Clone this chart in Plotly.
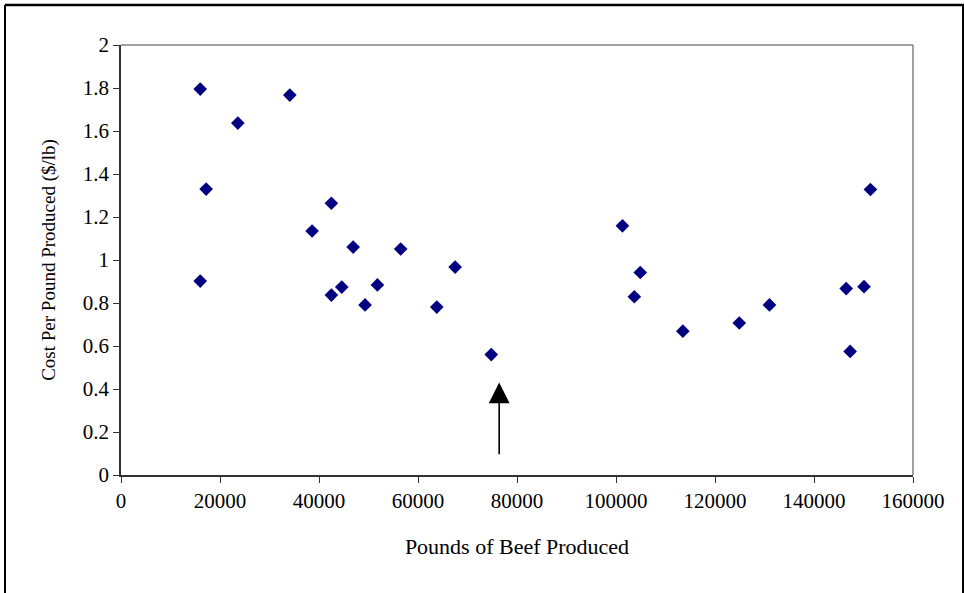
import plotly.graph_objects as go

pounds = [16000, 17200, 16000, 23600, 34100, 38600, 42500, 42500, 44600, 46900,
          49300, 51800, 56500, 63800, 67500, 74800, 101300, 103700, 104900, 113500,
          124900, 131000, 146500, 147300, 150100, 151400]
cost = [1.795, 1.33, 0.902, 1.637, 1.767, 1.135, 1.264, 0.837, 0.874, 1.06,
        0.791, 0.884, 1.051, 0.781, 0.967, 0.56, 1.159, 0.829, 0.942, 0.669,
        0.707, 0.791, 0.867, 0.575, 0.876, 1.328]

x_ticks = [0, 20000, 40000, 60000, 80000, 100000, 120000, 140000, 160000]
y_ticks = [0, 0.2, 0.4, 0.6, 0.8, 1, 1.2, 1.4, 1.6, 1.8, 2]
y_tick_text = ["0", "0.2", "0.4", "0.6", "0.8", "1", "1.2", "1.4", "1.6", "1.8", "2"]

arrow_x = 76400
arrow_tip = 0.43
arrow_tail = 0.09

FONT = "Liberation Serif, Times New Roman, serif"

fig = go.Figure()
fig.add_trace(go.Scatter(
    x=pounds, y=cost, mode="markers",
    marker=dict(symbol="diamond", size=10.5, color="#000080", line=dict(width=0)),
    showlegend=False, cliponaxis=False,
))

fig.add_annotation(
    x=arrow_x, y=arrow_tip, ax=arrow_x, ay=arrow_tail,
    xref="x", yref="y", axref="x", ayref="y",
    showarrow=True, arrowhead=2, arrowsize=2.6, arrowwidth=1.6,
    arrowcolor="black", text="", standoff=0,
)

# gray top/right border of plot area
fig.add_shape(type="line", xref="paper", yref="paper", x0=0, x1=1, y0=1, y1=1,
              line=dict(color="#808080", width=1.5))
fig.add_shape(type="line", xref="paper", yref="paper", x0=1, x1=1, y0=0, y1=1,
              line=dict(color="#808080", width=1.5))

# outer chart frame (left, top, right)
L, R, T, B = 121, 913, 45, 475
def px_x(p):
    return (p - L) / (R - L)
def px_y(p):
    return (B - p) / (B - T)
fig.add_shape(type="line", xref="paper", yref="paper",
              x0=px_x(5), x1=px_x(5), y0=px_y(5), y1=px_y(620),
              line=dict(color="black", width=2))
fig.add_shape(type="line", xref="paper", yref="paper",
              x0=px_x(5), x1=px_x(990), y0=px_y(5), y1=px_y(5),
              line=dict(color="black", width=2.5))
fig.add_shape(type="line", xref="paper", yref="paper",
              x0=px_x(963), x1=px_x(963), y0=px_y(5), y1=px_y(620),
              line=dict(color="black", width=2))

fig.update_xaxes(
    range=[0, 160000], tickvals=x_ticks, ticktext=[str(v) for v in x_ticks],
    showgrid=False, zeroline=False, showline=True, linecolor="#333333", linewidth=1.5,
    ticks="outside", ticklen=6, tickcolor="#333333", tickwidth=1,
    tickfont=dict(family=FONT, size=21, color="black"),
    title=dict(text="Pounds of Beef Produced", font=dict(family=FONT, size=22, color="black"),
               standoff=27),
)
fig.update_yaxes(
    range=[0, 2], tickvals=y_ticks, ticktext=y_tick_text,
    showgrid=False, zeroline=False, showline=True, linecolor="#333333", linewidth=1.5,
    ticks="outside", ticklen=6, tickcolor="#333333", tickwidth=1,
    tickfont=dict(family=FONT, size=21, color="black"),
    title=dict(text="Cost Per Pound Produced ($/lb)", font=dict(family=FONT, size=19, color="black"),
               standoff=22),
)

fig.update_layout(
    width=964, height=593,
    margin=dict(l=L, r=964 - R, t=T, b=593 - B),
    plot_bgcolor="white", paper_bgcolor="white",
)

fig.write_html("out.html", config={"displayModeBar": False},
               post_script="document.body.style.margin='0';document.body.style.overflow='hidden';")
